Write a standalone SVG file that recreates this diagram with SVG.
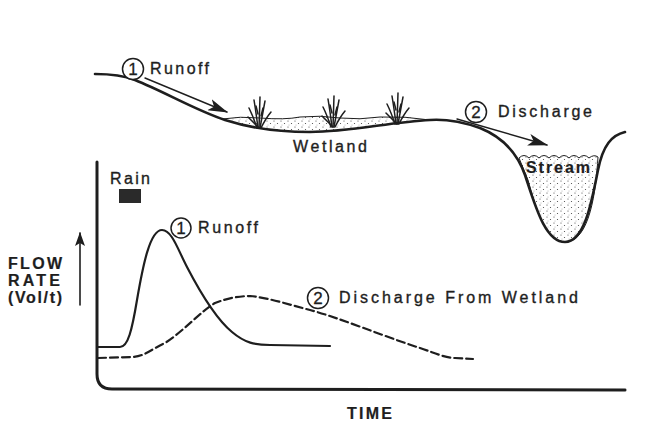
<svg xmlns="http://www.w3.org/2000/svg" xmlns:xlink="http://www.w3.org/1999/xlink" width="658" height="422" viewBox="0 0 658 422">
<style>
.ln{fill:none;stroke:#1e1e1e;stroke-linecap:round;stroke-linejoin:round}
.t{font-family:"Liberation Sans",Arial,sans-serif;font-size:16px;fill:#1e1e1e;stroke:#1e1e1e;stroke-width:0.35}
.b{font-weight:bold;stroke-width:0.2}
.num{font-family:"Liberation Sans",Arial,sans-serif;font-size:17px;fill:#1e1e1e;text-anchor:middle;stroke:#1e1e1e;stroke-width:0.3}
.circ{fill:#fff;stroke:#1e1e1e;stroke-width:1.5}
</style>
<defs>
<pattern id="dots" width="7" height="6" patternUnits="userSpaceOnUse">
<circle cx="1" cy="1" r="0.6" fill="#444"/>
<circle cx="4.5" cy="3.5" r="0.6" fill="#444"/>
<circle cx="2" cy="5" r="0.4" fill="#666"/>
</pattern>
<marker id="ah" viewBox="0 0 20 12" refX="19" refY="6" markerWidth="20" markerHeight="12" markerUnits="userSpaceOnUse" orient="auto">
<path d="M0,0 L20,6 L0,12 L5,6 Z" fill="#1e1e1e"/>
</marker>
<marker id="ahs" viewBox="0 0 14 10" refX="13" refY="5" markerWidth="14" markerHeight="10" markerUnits="userSpaceOnUse" orient="auto">
<path d="M0,0 L14,5 L0,10 L3,5 Z" fill="#1e1e1e"/>
</marker>
<g id="plant" class="ln" stroke-width="1.5">
<path d="M-2,0 Q-6,-12 -10,-20"/>
<path d="M-1,0 Q-3,-16 -5,-28"/>
<path d="M0,0 L1,-31"/>
<path d="M1,0 Q4,-16 6,-27"/>
<path d="M2,0 Q7,-10 12,-16"/>
<path d="M0,0 Q-7,-7 -11,-11"/>
<path d="M-1,-14 L-3,-22"/>
<path d="M2,-12 L4,-20"/>
</g>
</defs>
<rect width="658" height="422" fill="#fff"/>

<g id="landscape">
<path d="M222,119 Q240,116 260,118 Q285,120 300,117 Q320,115 340,118 Q360,120 380,117 Q405,116 430,120 C390,122 350,132 310,132 C280,132 250,128 222,119 Z" fill="url(#dots)" stroke="#1e1e1e" stroke-width="1"/>
<path d="M519,158 q5,-5 10,0 q5,-5 10,0 q5,-5 10,0 q5,-5 10,0 q5,-5 10,0 q5,-5 10,0 q5,-5 10,0 q5,-4 9,-1 C596,190 590,242 565,242 C545,242 535,205 528,180 Z" fill="url(#dots)" stroke="#1e1e1e" stroke-width="1"/>
<path class="ln" stroke-width="2.6" d="M95,74 C110,74 125,76 135,80 C165,92 195,110 225,120 C250,128 280,132 310,132 C350,132 390,122 430,120 C445,119 460,121 480,128 C505,138 518,155 525,175 C535,205 545,242 565,242 C585,242 592,200 598,170 C603,145 612,135 625,132"/>
</g>

<g id="plants">
<use xlink:href="#plant" href="#plant" x="259" y="128"/>
<use xlink:href="#plant" href="#plant" x="333" y="127"/>
<use xlink:href="#plant" href="#plant" x="397" y="124"/>
</g>

<g id="connectors">
<line class="ln" stroke-width="1.4" x1="145" y1="78" x2="227" y2="112" marker-end="url(#ah)"/>
<line class="ln" stroke-width="1.4" x1="457" y1="119" x2="547" y2="145" marker-end="url(#ah)"/>
<line class="ln" stroke-width="1.6" x1="80" y1="305" x2="80" y2="233" marker-end="url(#ahs)"/>
</g>

<g id="label-runoff-top">
<circle class="circ" cx="133" cy="69" r="10.5"/>
<text class="num" x="133" y="75">1</text>
<text class="t" x="150" y="73.5" textLength="59" lengthAdjust="spacing">Runoff</text>
</g>
<g id="label-wetland">
<text class="t" x="293" y="152" textLength="74" lengthAdjust="spacing">Wetland</text>
</g>
<g id="label-discharge-top">
<circle class="circ" cx="476" cy="112" r="10.5"/>
<text class="num" x="476" y="118">2</text>
<text class="t" x="498" y="117" textLength="94" lengthAdjust="spacing">Discharge</text>
</g>
<g id="label-stream">
<text class="t b" x="526" y="173" textLength="64" lengthAdjust="spacing">Stream</text>
</g>

<g id="graph-axes">
<path class="ln" stroke-width="3" d="M97,162 L97,374 Q97,389 112,389 L625,390"/>
</g>

<g id="rain">
<text class="t" x="110" y="184" textLength="40" lengthAdjust="spacing">Rain</text>
<rect x="119" y="189" width="22" height="14" fill="#2a2a2a"/>
</g>

<g id="y-label">
<text class="t b" x="8" y="269" textLength="54" lengthAdjust="spacing">FLOW</text>
<text class="t b" x="8" y="286" textLength="52" lengthAdjust="spacing">RATE</text>
<text class="t b" x="8" y="303" textLength="54" lengthAdjust="spacing">(Vol/t)</text>
</g>

<g id="curve-runoff">
<path class="ln" stroke-width="2.2" d="M97,347 L120,347 C128,347 132,330 137,300 C143,265 150,230 162,230 C172,230 178,250 187,267 C200,292 215,318 232,332 C245,343 255,345 270,345 L330,346"/>
<circle class="circ" cx="181" cy="228" r="10"/>
<text class="num" x="181" y="234">1</text>
<text class="t" x="198" y="233" textLength="60" lengthAdjust="spacing">Runoff</text>
</g>

<g id="curve-discharge">
<path class="ln" stroke-width="2.2" stroke-dasharray="8,4" d="M98,358 L133,357 C145,356 150,350 165,343 C185,330 200,312 215,303 C228,298 240,296 250,296 C270,298 290,305 310,310 C340,318 380,335 420,348 C435,353 445,358 455,358 L473,359"/>
<circle class="circ" cx="318" cy="298" r="10.5"/>
<text class="num" x="318" y="304">2</text>
<text class="t" x="339" y="303" textLength="239" lengthAdjust="spacing">Discharge From Wetland</text>
</g>

<g id="x-label">
<text class="t b" x="347" y="419" textLength="45" lengthAdjust="spacing">TIME</text>
</g>
</svg>
